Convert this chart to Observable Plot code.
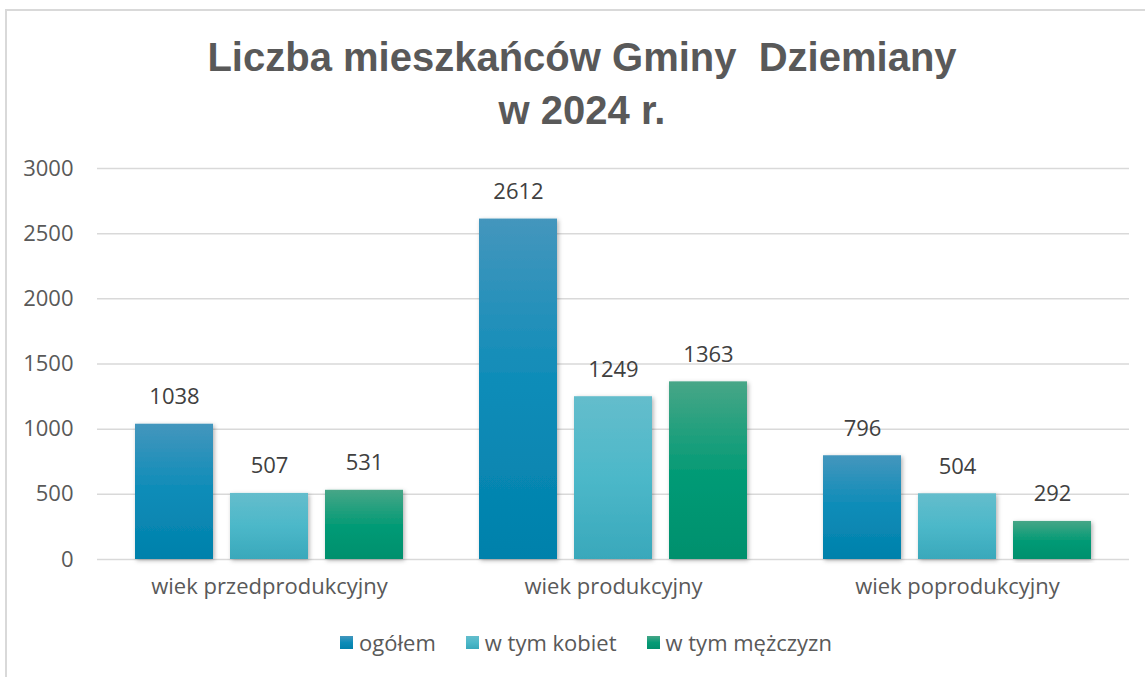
<!DOCTYPE html>
<html>
<head>
<meta charset="utf-8">
<script src="https://cdn.jsdelivr.net/npm/d3@7"></script>
<script src="https://cdn.jsdelivr.net/npm/@observablehq/plot@0.6"></script>
<style>
  body { margin: 0; background: #fff; width: 1145px; height: 677px; overflow: hidden; position: relative; font-family: "Open Sans", sans-serif; }
  #frame { position: absolute; left: 5px; top: 9px; width: 1160px; height: 690px; border-top: 2px solid #d9d9d9; border-left: 2px solid #d9d9d9; }
  #title { position: absolute; left: 0; top: 31px; width: 1164px; text-align: center; font: bold 40px "Liberation Sans", sans-serif; color: #595959; line-height: 53px; }
  #chart { position: absolute; left: 0; top: 0; }
  #legend { position: absolute; left: 0; top: 627px; width: 1172px; display: flex; justify-content: center; gap: 30px; font-size: 22px; color: #595959; }
  #legend .item { display: flex; align-items: center; }
  #legend .sw { width: 13px; height: 13px; margin-right: 6px; }
  g[aria-label="bar"] rect { filter: url(#shadow); }
</style>
</head>
<body>
<svg width="0" height="0" style="position:absolute">
  <defs>
    <linearGradient id="g0" x1="0" y1="0" x2="0" y2="1">
      <stop offset="0" stop-color="#4496bd"/><stop offset="0.5" stop-color="#0c8cb8"/><stop offset="1" stop-color="#0281ab"/>
    </linearGradient>
    <linearGradient id="g1" x1="0" y1="0" x2="0" y2="1">
      <stop offset="0" stop-color="#64bdcc"/><stop offset="0.5" stop-color="#4cb8c9"/><stop offset="1" stop-color="#39a8bb"/>
    </linearGradient>
    <linearGradient id="g2" x1="0" y1="0" x2="0" y2="1">
      <stop offset="0" stop-color="#47a687"/><stop offset="0.5" stop-color="#069b76"/><stop offset="1" stop-color="#02906d"/>
    </linearGradient>
    <filter id="shadow" x="-20%" y="-10%" width="140%" height="120%">
      <feDropShadow dx="1.5" dy="1.5" stdDeviation="2" flood-color="#000" flood-opacity="0.3"/>
    </filter>
  </defs>
</svg>
<div id="frame"></div>
<div id="chart"></div>
<div id="title">Liczba mieszkańców Gminy&nbsp; Dziemiany<br>w 2024 r.</div>
<div id="legend"></div>
<script>
const categories = ["wiek przedprodukcyjny", "wiek produkcyjny", "wiek poprodukcyjny"];
const series = ["ogółem", "w tym kobiet", "w tym mężczyzn"];
const ogolem = [1038, 2612, 796];
const kobiet = [507, 1249, 504];
const mezczyzn = [531, 1363, 292];
const yTicks = [0, 500, 1000, 1500, 2000, 2500, 3000];

const fills = ["url(#g0)", "url(#g1)", "url(#g2)"];
const legendFills = [
  "linear-gradient(#4496bd, #0c8cb8, #0281ab)",
  "linear-gradient(#64bdcc, #4cb8c9, #39a8bb)",
  "linear-gradient(#47a687, #069b76, #02906d)"
];

const valuesBySeries = [ogolem, kobiet, mezczyzn];
const data = [];
categories.forEach((c, i) => {
  series.forEach((s, j) => {
    data.push({category: c, series: s, value: valuesBySeries[j][i]});
  });
});

const chart = Plot.plot({
  width: 1145,
  height: 620,
  marginLeft: 97,
  marginRight: 16,
  marginTop: 168,
  marginBottom: 61,
  style: {background: "none", fontFamily: "Open Sans", fontSize: "22px", color: "#595959"},
  fx: {domain: categories, padding: 0, label: null, axis: "bottom", tickSize: 0, tickPadding: 19},
  x: {domain: series, paddingInner: 0.179, paddingOuter: 0.4, axis: null},
  y: {domain: [0, 3000], ticks: yTicks, tickSize: 0, tickPadding: 24, label: null, tickFormat: d => String(d)},
  color: {type: "ordinal", domain: series, range: fills},
  marks: [
    Plot.gridY(yTicks, {stroke: "#d9d9d9", strokeOpacity: 1, strokeWidth: 1.5}),
    Plot.barY(data, {fx: "category", x: "series", y: "value", fill: "series"}),
    Plot.text(data, {fx: "category", x: "series", y: "value", text: d => String(d.value), lineAnchor: "bottom", dy: -20, fill: "#404040", fontSize: 22})
  ]
});
document.getElementById("chart").appendChild(chart);

const legend = document.getElementById("legend");
series.forEach((s, i) => {
  const item = document.createElement("div");
  item.className = "item";
  const sw = document.createElement("div");
  sw.className = "sw";
  sw.style.background = legendFills[i];
  const t = document.createElement("span");
  t.textContent = s;
  item.appendChild(sw);
  item.appendChild(t);
  legend.appendChild(item);
});
</script>
</body>
</html>
